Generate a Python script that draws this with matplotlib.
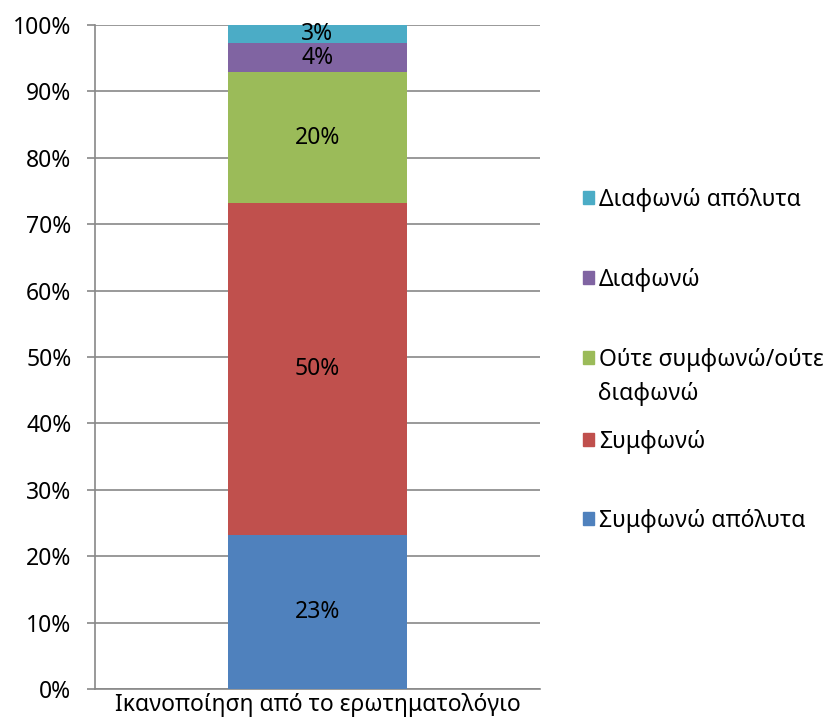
import matplotlib
matplotlib.use("Agg")
import matplotlib.pyplot as plt
from matplotlib.patches import Patch
from matplotlib.ticker import PercentFormatter

plt.rcParams['font.family'] = ['Noto Sans', 'DejaVu Sans']

category = ["Ικανοποίηση από το ερωτηματολόγιο"]
series_names = ["Συμφωνώ απόλυτα", "Συμφωνώ", "Ούτε συμφωνώ/ούτε διαφωνώ", "Διαφωνώ", "Διαφωνώ απόλυτα"]
values = [23.2, 50.0, 19.7, 4.4, 2.7]
labels = ["23%", "50%", "20%", "4%", "3%"]
colors = ["#4F81BD", "#C0504D", "#9BBB59", "#8064A2", "#4BACC6"]

FS = 16.5

fig = plt.figure(figsize=(8.38, 7.22), dpi=100)
ax = fig.add_axes([95/838, 1-689/722, 445/838, 664/722])

bottom = 0
for name, v, lab, c in zip(series_names, values, labels, colors):
    bars = ax.bar(category, [v], bottom=[bottom], width=0.402, color=c, zorder=3)
    ax.bar_label(bars, labels=[lab], label_type='center', fontsize=FS, color='black')
    bottom += v

ax.set_ylim(0, 100)
ax.set_xlim(-0.5, 0.5)
ax.set_yticks(range(0, 101, 10))
ax.yaxis.set_major_formatter(PercentFormatter(100, decimals=0))
ax.grid(axis='y', color='#888888', linewidth=1.2, zorder=0)
ax.set_axisbelow(True)
for s in ['top', 'right']:
    ax.spines[s].set_visible(False)
for s in ['left', 'bottom']:
    ax.spines[s].set_color('#888888')
    ax.spines[s].set_linewidth(1.2)
ax.tick_params(axis='y', length=6, width=1.2, color='#888888', labelsize=FS, pad=11)
ax.tick_params(axis='x', length=0, labelsize=FS, pad=3)

# legend entries (reverse order), one per row
ypos = [521, 442, 360, 280, 200]
for name, c, yp in zip(series_names, colors, ypos):
    lab = "Ούτε συμφωνώ/ούτε" if name.startswith("Ούτε") else name
    fig.legend(handles=[Patch(color=c)], labels=[lab], loc='center left',
               bbox_to_anchor=(583/838, 1-yp/722), frameon=False, fontsize=FS,
               handlelength=0.5, handleheight=0.5, handletextpad=0.2,
               borderpad=0, borderaxespad=0)
fig.text(598/838, 1-394/722, "διαφωνώ", fontsize=FS, va='center', ha='left')

fig.savefig("out.png", dpi=100)
